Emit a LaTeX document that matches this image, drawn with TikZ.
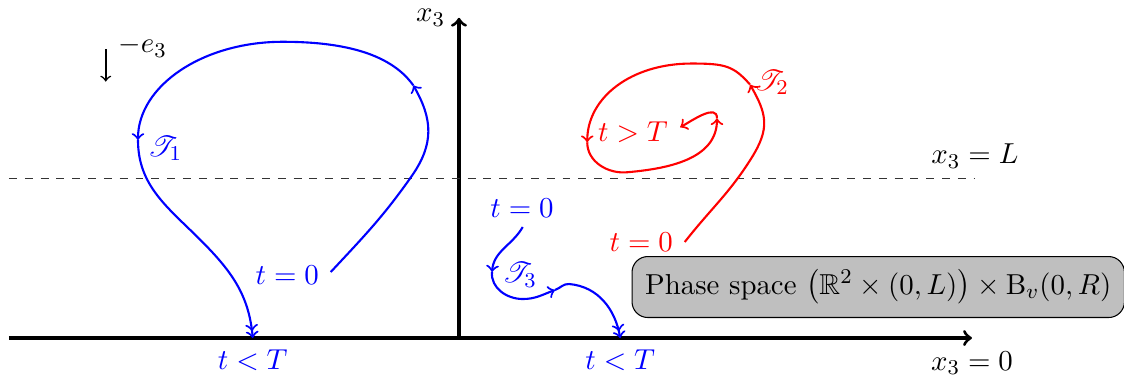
\documentclass[tikz,border=0pt,11pt]{standalone}
\usepackage{amsmath,amssymb}
\usepackage{mathrsfs}
\usetikzlibrary{positioning,calc}

\begin{document}
\begin{tikzpicture}[
    axis/.style={->, very thick},
    traj/.style={thick, #1},
    lbl/.style={font=\normalsize, #1},
    phasebox/.style={draw, fill=black!25, rounded corners=6pt, inner sep=5pt},
  ]
  \useasboundingbox (-6.12,-0.533) rectangle (8.867,4.507);

  % Axes and level x_3 = L
  \coordinate (O) at (0,0);
  \coordinate (xl) at (-6,0);
  \coordinate (xr) at (6.84,0);
  \coordinate (ztop) at (0,4.27);
  \draw[axis] (xl) -- (xr) node[below=1pt] {$x_3=0$};
  \draw[axis] (O) -- (ztop) node[left=1pt] {$x_3$};
  \coordinate (Ll) at (-6,2.13);
  \coordinate (Lr) at (6.88,2.13);
  \draw[dashed, black!80] (Ll) -- (Lr) node[above, text=black] {$x_3=L$};

  % Direction of gravity
  \coordinate (g0) at (-4.71,3.85);
  \coordinate (g1) at (-4.71,3.42);
  \draw[->, semithick] (g0) -- (g1);
  \node[right=1pt of g0, yshift=1pt] (glbl) {$-e_3$};

  % =================== Trajectory 1 ===================
  \coordinate (a0) at (-1.71,0.88);
  \coordinate (a1) at (-0.63,2.16);
  \coordinate (a3) at (-0.61,3.37);
  \coordinate (a4) at (-2.35,3.95);
  \coordinate (a5) at (-4.28,2.64);
  \coordinate (a6) at (-3.45,1.31);
  \coordinate (a7) at (-2.75,0);
  \draw[traj=blue, ->] (a0) to[out=47,in=235] (a1) to[out=55,in=-60,looseness=1.1] (a3);
  \draw[traj=blue, ->] (a3) .. controls +(-0.32,0.45) and +(0.74,0) .. (a4)
    .. controls +(-1.07,0) and +(0,0.72) .. (a5);
  \draw[traj=blue, ->>] (a5) to[out=-90,in=135] (a6) to[out=-45,in=95] (a7);
  \node[lbl=blue] (t1a) at (-2.29,0.84) {$t=0$};
  \node[lbl=blue] (t1b) at (-2.75,-0.29) {$t<T$};
  \node[lbl=blue] (T1) at (-3.92,2.53) {$\mathscr{T}_1$};

  % =================== Trajectory 2 ===================
  \coordinate (b0) at (3.01,1.28);
  \coordinate (b1) at (3.90,2.40);
  \coordinate (b3) at (3.88,3.38);
  \coordinate (b4) at (3.10,3.66);
  \coordinate (b5) at (1.71,2.61);
  \coordinate (b6) at (2.24,2.21);
  \coordinate (b7) at (3.44,2.93);
  \coordinate (b8) at (2.95,2.81);
  \draw[traj=red, ->] (b0) to[out=52,in=238] (b1) to[out=58,in=-60,looseness=1.2] (b3);
  \draw[traj=red, ->] (b3) .. controls +(-0.22,0.25) and +(0.45,0) .. (b4)
    .. controls +(-0.8,0) and +(0,0.6) .. (b5);
  \draw[traj=red, ->] (b5) to[out=-90,in=185] (b6) to[out=5,in=-90] (b7);
  \draw[traj=red, ->] (b7) to[out=90,in=30] (b8);
  \node[lbl=red] (t2a) at (2.43,1.28) {$t=0$};
  \node[lbl=red] (t2b) at (2.32,2.75) {$t>T$};
  \node[lbl=red] (T2) at (4.17,3.41) {$\mathscr{T}_2$};

  % =================== Trajectory 3 ===================
  \coordinate (c0) at (0.85,1.48);
  \coordinate (c1) at (0.44,0.88);
  \coordinate (c2) at (0.85,0.52);
  \coordinate (c3) at (1.28,0.64);
  \coordinate (c4) at (1.47,0.72);
  \coordinate (c5) at (2.15,0);
  \draw[traj=blue, ->] (c0) to[out=-120,in=85] (c1);
  \draw[traj=blue, ->] (c1) to[out=-95,in=180] (c2) to[out=0,in=200] (c3);
  \draw[traj=blue, ->>] (c3) to[out=20,in=175] (c4) to[out=-5,in=100] (c5);
  \node[lbl=blue] (t3a) at (0.84,1.73) {$t=0$};
  \node[lbl=blue] (t3b) at (2.15,-0.29) {$t<T$};
  \node[lbl=blue] (T3) at (0.81,0.84) {$\mathscr{T}_3$};

  % Phase space
  \node[phasebox] (ps) at (5.59,0.68)
    {Phase space $\bigl(\mathbb{R}^2\times(0,L)\bigr)\times\mathrm{B}_v(0,R)$};
\end{tikzpicture}
\end{document}
